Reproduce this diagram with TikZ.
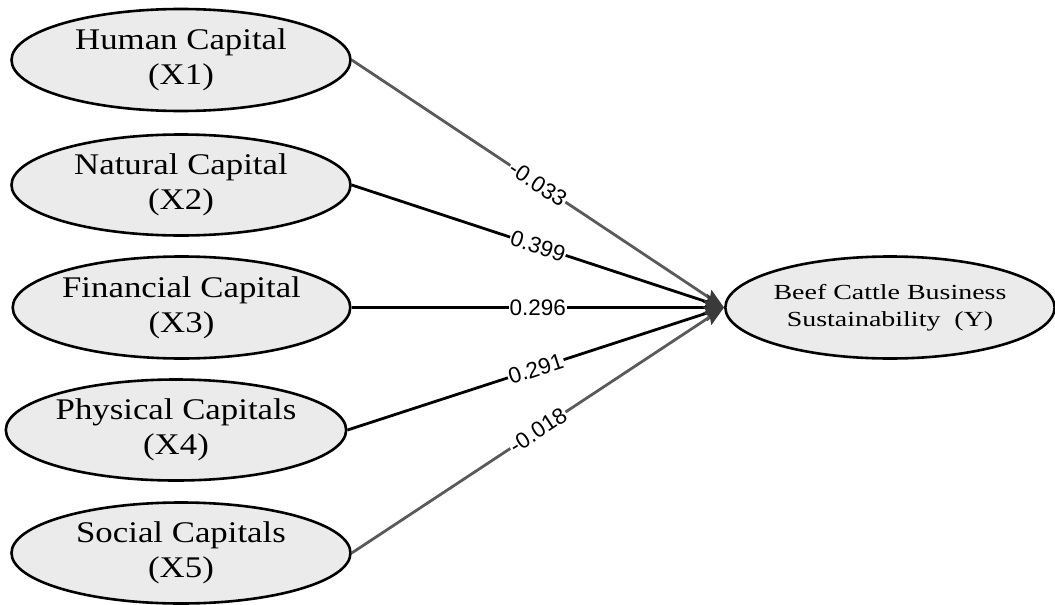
\documentclass[tikz,border=0pt]{standalone}
\usepackage{fontspec}
\usetikzlibrary{shapes.geometric,arrows.meta}
\newfontfamily\ellfont[FakeStretch=1.16]{Liberation Serif}
\newfontfamily\yfont[FakeStretch=1.3]{Liberation Serif}
\newfontfamily\labfont{Liberation Sans}
\definecolor{ellfill}{HTML}{EBEBEB}
\definecolor{grayline}{HTML}{5A5A5A}
\definecolor{tipcol}{HTML}{3A3A3A}
\tikzset{
  ell/.style={ellipse, draw=black, line width=2.6pt, fill=ellfill, inner sep=0pt, align=center,
    font=\ellfont\fontsize{30}{35}\selectfont},
  yell/.style={ellipse, draw=black, line width=2.6pt, fill=ellfill, inner sep=0pt, align=center,
    font=\yfont\fontsize{21.5}{26.5}\selectfont},
  conn/.style={line width=2.8pt, -{Stealth[length=20pt,width=15pt,inset=3pt,fill=tipcol,color=tipcol]}},
  blackconn/.style={conn, draw=black},
  grayconn/.style={conn, draw=grayline},
  lab/.style={sloped, fill=white, inner sep=1pt, font=\labfont\fontsize{22.5}{24}\selectfont, text=black}
}
\begin{document}
\begin{tikzpicture}[x=1pt,y=-1pt]
\useasboundingbox (0,0) rectangle (1055,605);
\node[ell, minimum width=339pt, minimum height=102pt] (x1) at (181,60) {Human Capital\\(X1)};
\node[ell, minimum width=339pt, minimum height=101pt] (x2) at (181,185) {Natural Capital\\(X2)};
\node[ell, minimum width=330pt, minimum height=102pt] (x3) at (181.5,307.5) {Financial Capital\\(X3)};
\node[ell, minimum width=329pt, minimum height=101pt] (x4) at (176,430) {Physical Capitals\\(X4)};
\node[ell, minimum width=339pt, minimum height=101pt] (x5) at (181,553) {Social Capitals\\(X5)};
\node[yell, minimum width=323pt, minimum height=102pt] (y) at (890,307.5) {Beef Cattle Business\\Sustainability~ (Y)};
\draw[grayconn] (x1.east) -- node[lab]{-0.033} (y.west);
\draw[blackconn] (x2.east) -- node[lab]{0.399} (y.west);
\draw[blackconn] (x3.east) -- node[lab]{0.296} (y.west);
\draw[blackconn] (x4.east) -- node[lab]{0.291} (y.west);
\draw[grayconn] (x5.east) -- node[lab]{-0.018} (y.west);
\end{tikzpicture}
\end{document}
